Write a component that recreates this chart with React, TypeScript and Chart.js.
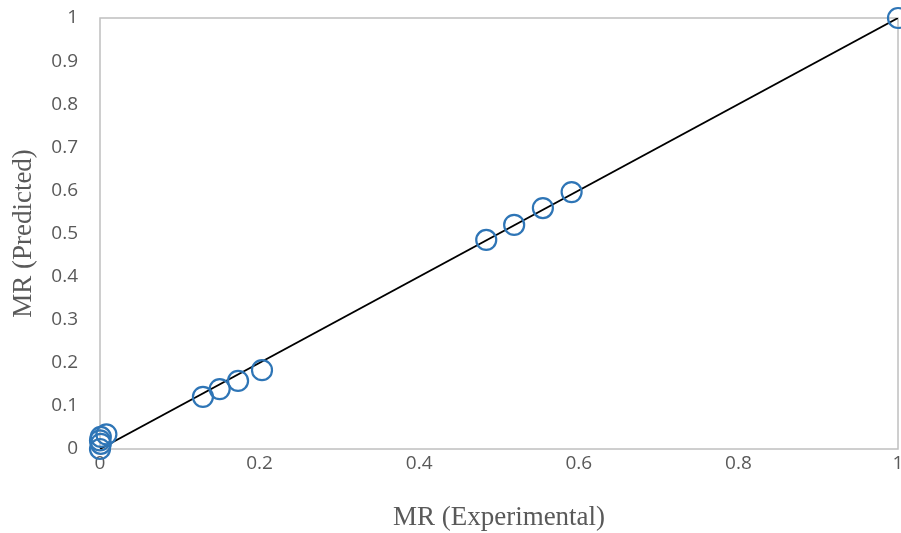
import React, { useEffect, useRef } from "react";
import { Chart, registerables } from "chart.js";

Chart.register(...registerables);

const expMR = [0, 0.001, 0, 0.001, 0.008, 0.129, 0.15, 0.173, 0.203, 0.484, 0.519, 0.555, 0.591, 1];
const predMR = [0, 0.012, 0.02, 0.028, 0.034, 0.121, 0.139, 0.158, 0.183, 0.485, 0.52, 0.559, 0.596, 1];
const lineX = [0, 1];
const lineY = [0, 1];

const boxPlugin = {
  id: "boxBorder",
  beforeDatasetsDraw(chart: any) {
    const { ctx, chartArea } = chart;
    ctx.save();
    ctx.strokeStyle = "#BFBFBF";
    ctx.lineWidth = 1.5;
    ctx.strokeRect(chartArea.left, chartArea.top, chartArea.right - chartArea.left, chartArea.bottom - chartArea.top);
    ctx.restore();
  },
};

const fmt = (v: any) => String(Math.round(Number(v) * 10) / 10);

export default function App() {
  const ref = useRef<HTMLCanvasElement>(null);
  useEffect(() => {
    document.body.style.margin = "0";
    const tickFont = { family: "'Open Sans', 'Liberation Sans', sans-serif", size: 19 };
    const titleFont = { family: "'Liberation Serif', 'Times New Roman', serif", size: 27 };
    const chart = new Chart(ref.current!, {
      type: "scatter",
      data: {
        datasets: [
          {
            type: "scatter",
            data: expMR.map((x, i) => ({ x, y: predMR[i] })),
            pointStyle: "circle",
            pointRadius: 10,
            pointBorderWidth: 2.2,
            pointBorderColor: "#2E75B6",
            pointBackgroundColor: "rgba(0,0,0,0)",
            clip: false,
            order: 1,
          } as any,
          {
            type: "line",
            data: lineX.map((x, i) => ({ x, y: lineY[i] })),
            borderColor: "#000000",
            borderWidth: 1.8,
            pointRadius: 0,
            fill: false,
            order: 2,
          } as any,
        ],
      },
      options: {
        animation: false,
        responsive: true,
        maintainAspectRatio: false,
        layout: { autoPadding: false, padding: { top: 18, right: 0, left: 0, bottom: 0 } },
        plugins: { legend: { display: false }, tooltip: { enabled: false } },
        scales: {
          x: {
            type: "linear",
            min: 0,
            max: 1,
            ticks: { stepSize: 0.2, font: tickFont, color: "#595959", padding: 3, callback: fmt },
            grid: { display: false, drawTicks: false },
            border: { display: false },
            title: { display: true, text: "MR (Experimental)", font: titleFont, color: "#595959", padding: { top: 0, bottom: -1 } },
            afterFit: (s: any) => {
              s.height = 84;
              s.paddingRight = 3;
            },
          },
          y: {
            type: "linear",
            min: 0,
            max: 1,
            ticks: { stepSize: 0.1, font: tickFont, color: "#595959", padding: 22, callback: fmt },
            grid: { display: false, drawTicks: false },
            border: { display: false },
            title: { display: true, text: "MR (Predicted)", font: titleFont, color: "#595959", padding: { top: 8, bottom: 0 } },
            afterFit: (s: any) => {
              s.width = 100;
              s.paddingTop = 0;
              s.paddingBottom = 0;
            },
          },
        },
      },
      plugins: [boxPlugin],
    });
    return () => chart.destroy();
  }, []);
  return (
    <div style={{ position: "relative", width: 901, height: 533 }}>
      <canvas ref={ref} />
    </div>
  );
}
